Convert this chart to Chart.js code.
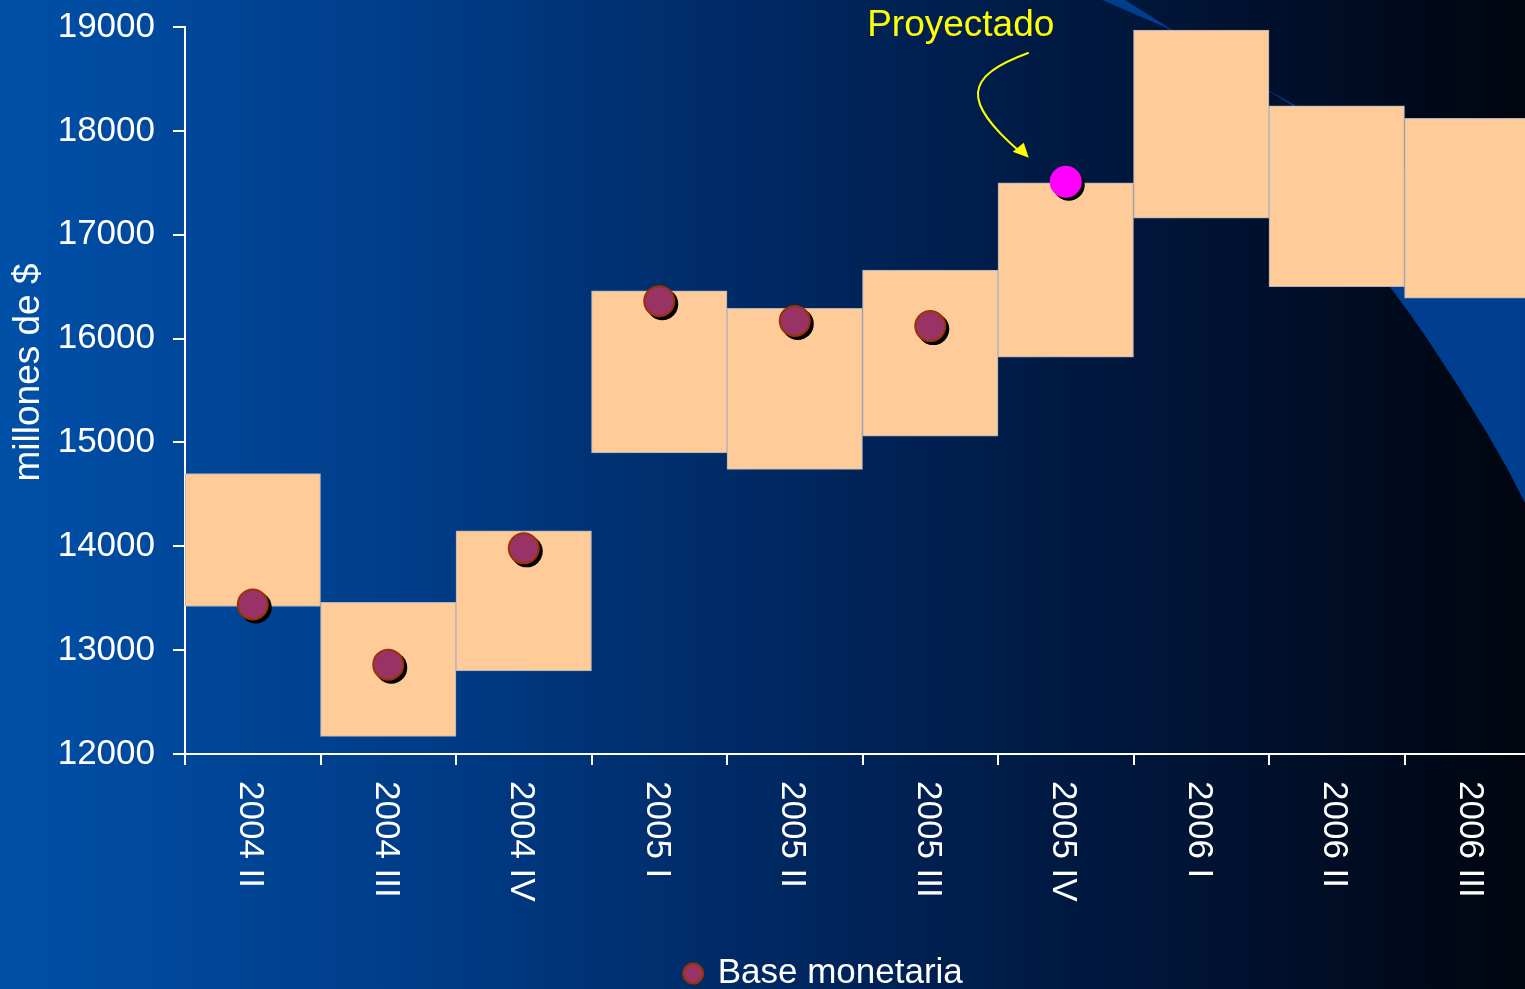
<!DOCTYPE html>
<html>
<head>
<meta charset="utf-8">
<script src="https://cdn.jsdelivr.net/npm/chart.js@4.4.1/dist/chart.umd.min.js"></script>
<style>
  html, body { margin: 0; padding: 0; background: #00050f; overflow: hidden; }
  #wrap { width: 1525px; height: 989px; position: relative; }
</style>
</head>
<body>
<div id="wrap"><canvas id="bmChart"></canvas></div>
<script>
const categories = ['2004 II', '2004 III', '2004 IV', '2005 I', '2005 II', '2005 III', '2005 IV', '2006 I', '2006 II', '2006 III'];
const bandLow  = [13420, 12170, 12800, 14900, 14740, 15060, 15820, 17160, 16500, 16390];
const bandHigh = [14700, 13460, 14150, 16460, 16290, 16660, 17500, 18970, 18240, 18120];
const baseMonetaria = [13440, 12860, 13980, 16360, 16170, 16120, 17510, null, null, null];
const projectedIndex = 6;
const yTicks = [12000, 13000, 14000, 15000, 16000, 17000, 18000, 19000];
const yTitle = 'millones de $';

const FONT = 'Liberation Sans, Arial, sans-serif';
const PLOT_RIGHT = 1540; // the original plot runs a little past the slide edge
const ctx = document.getElementById('bmChart').getContext('2d');

const pointFill = baseMonetaria.map((v, i) => i === projectedIndex ? '#FF00FF' : '#993366');
const pointEdge = baseMonetaria.map((v, i) => i === projectedIndex ? '#FF00FF' : '#993300');

// slide background + blue swoosh
const backdrop = {
    id: 'backdrop',
    beforeDraw(chart) {
        const c = chart.ctx;
        const w = chart.width, h = chart.height;
        c.save();
        const g = c.createLinearGradient(0, 0, w, 0);
        g.addColorStop(0, '#0050a8');
        g.addColorStop(0.3, '#003a84');
        g.addColorStop(0.6, '#002052');
        g.addColorStop(0.85, '#000f29');
        g.addColorStop(1, '#00050f');
        c.fillStyle = g;
        c.fillRect(0, 0, w, h);

        const lower = [[1102, 0], [1167, 28], [1293, 106], [1350, 205], [1390, 287], [1410, 314],
                       [1430, 343], [1458, 386], [1487, 433], [1507, 468], [1525, 503]];
        const upper = [[1525, 240], [1300, 108], [1268, 90], [1125, 0]];
        c.fillStyle = '#003f8f';
        c.beginPath();
        lower.concat(upper).forEach(([x, y], i) => i ? c.lineTo(x, y) : c.moveTo(x, y));
        c.closePath();
        c.fill();
        c.restore();
    }
};

// drop shadow under the base monetaria markers
const markerShadow = {
    id: 'markerShadow',
    beforeDatasetDraw(chart, args) {
        if (args.index !== 0) return;
        const c = chart.ctx;
        c.save();
        c.fillStyle = '#000000';
        args.meta.data.forEach((pt, i) => {
            if (baseMonetaria[i] === null || pt.skip) return;
            c.beginPath();
            c.arc(pt.x + 3, pt.y + 3, 16, 0, Math.PI * 2);
            c.fill();
        });
        c.restore();
    }
};

// x labels rotated clockwise, y title, plus the "Proyectado" callout
const extras = {
    id: 'extras',
    afterLayout(chart) {
        // stretch the category axis past the right edge
        const xs = chart.scales.x;
        xs.right = PLOT_RIGHT;
        xs.width = PLOT_RIGHT - xs.left;
        xs.configure();
        chart.chartArea.right = PLOT_RIGHT;
        chart.chartArea.width = PLOT_RIGHT - chart.chartArea.left;

        // legend sits a bit right and lower in the original
        chart.legend.left += 62;
        chart.legend.right += 62;
        chart.legend.top += 12;
        chart.legend.bottom += 12;
    },
    afterDraw(chart) {
        const c = chart.ctx;
        const xs = chart.scales.x, ys = chart.scales.y;
        c.save();
        c.fillStyle = '#ffffff';
        c.font = '35px ' + FONT;
        c.textAlign = 'left';
        c.textBaseline = 'middle';
        categories.forEach((lab, i) => {
            c.save();
            c.translate(xs.getPixelForTick(i) - 3, 781);
            c.rotate(Math.PI / 2);
            c.fillText(lab, 0, 0);
            c.restore();
        });

        // axis title, a bit above the plot's middle as in the slide
        c.save();
        c.font = '37px ' + FONT;
        c.textAlign = 'center';
        c.translate(29, (ys.top + ys.bottom) / 2 - 18);
        c.rotate(-Math.PI / 2);
        c.fillText(yTitle, 0, 0);
        c.restore();

        const px = xs.getPixelForValue(projectedIndex);
        const py = ys.getPixelForValue(baseMonetaria[projectedIndex]);
        c.fillStyle = '#FFFF00';
        c.font = '37px ' + FONT;
        c.textAlign = 'center';
        c.textBaseline = 'alphabetic';
        c.fillText('Proyectado', px - 105, py - 146);

        c.strokeStyle = '#FFFF00';
        c.lineWidth = 2;
        c.beginPath();
        c.moveTo(px - 37, py - 129);
        c.bezierCurveTo(px - 103, py - 105, px - 103, py - 80, px - 47, py - 31);
        c.stroke();
        c.fillStyle = '#FFFF00';
        c.beginPath();
        c.moveTo(px - 37, py - 24);
        c.lineTo(px - 53, py - 30);
        c.lineTo(px - 42, py - 39);
        c.closePath();
        c.fill();
        c.restore();
    }
};

new Chart(ctx, {
    type: 'bar',
    data: {
        labels: categories,
        datasets: [
            {
                type: 'line',
                label: 'Base monetaria',
                data: baseMonetaria,
                showLine: false,
                order: 0,
                pointStyle: 'circle',
                pointRadius: 15,
                pointHoverRadius: 15,
                pointBorderWidth: 2,
                pointBackgroundColor: pointFill,
                pointBorderColor: pointEdge,
                backgroundColor: '#993366',
                borderColor: '#993300',
                borderWidth: 2,
                clip: false
            },
            {
                label: 'Banda',
                data: bandLow.map((lo, i) => [lo, bandHigh[i]]),
                order: 1,
                backgroundColor: '#FFCC99',
                borderColor: '#A9B1C2',
                borderWidth: 1,
                borderSkipped: false,
                barPercentage: 1,
                categoryPercentage: 1,
                clip: false
            }
        ]
    },
    options: {
        responsive: true,
        maintainAspectRatio: false,
        animation: false,
        layout: { autoPadding: false, padding: { top: 27, right: 0, left: 0, bottom: 0 } },
        plugins: {
            legend: {
                display: true,
                position: 'bottom',
                labels: {
                    color: '#ffffff',
                    font: { family: FONT, size: 35 },
                    usePointStyle: true,
                    boxWidth: 14,
                    boxHeight: 14,
                    padding: 0,
                    filter: item => item.datasetIndex === 0
                }
            },
            tooltip: { enabled: false }
        },
        scales: {
            x: {
                offset: true,
                grid: {
                    display: true,
                    offset: true,
                    drawOnChartArea: false,
                    drawTicks: true,
                    tickLength: 11,
                    color: '#ffffff',
                    lineWidth: 2
                },
                border: { color: '#ffffff', width: 2 },
                ticks: { display: false },
                afterFit(scale) {
                    scale.height = 989 - 754 - scale.chart.legend.height;
                    scale.paddingLeft = 0;
                    scale.paddingRight = 0;
                }
            },
            y: {
                min: 12000,
                max: 19000,
                afterBuildTicks(scale) {
                    scale.ticks = yTicks.map(v => ({ value: v }));
                },
                grid: {
                    drawOnChartArea: false,
                    drawTicks: true,
                    tickLength: 12,
                    color: '#ffffff',
                    lineWidth: 2
                },
                border: { color: '#ffffff', width: 2 },
                ticks: {
                    color: '#ffffff',
                    font: { family: FONT, size: 35 },
                    padding: 18,
                    callback: v => String(v)
                },
                title: { display: false },
                afterFit(scale) {
                    scale.width = 185;
                    scale.paddingTop = 0;
                    scale.paddingBottom = 0;
                }
            }
        }
    },
    plugins: [backdrop, markerShadow, extras]
});
</script>
</body>
</html>
